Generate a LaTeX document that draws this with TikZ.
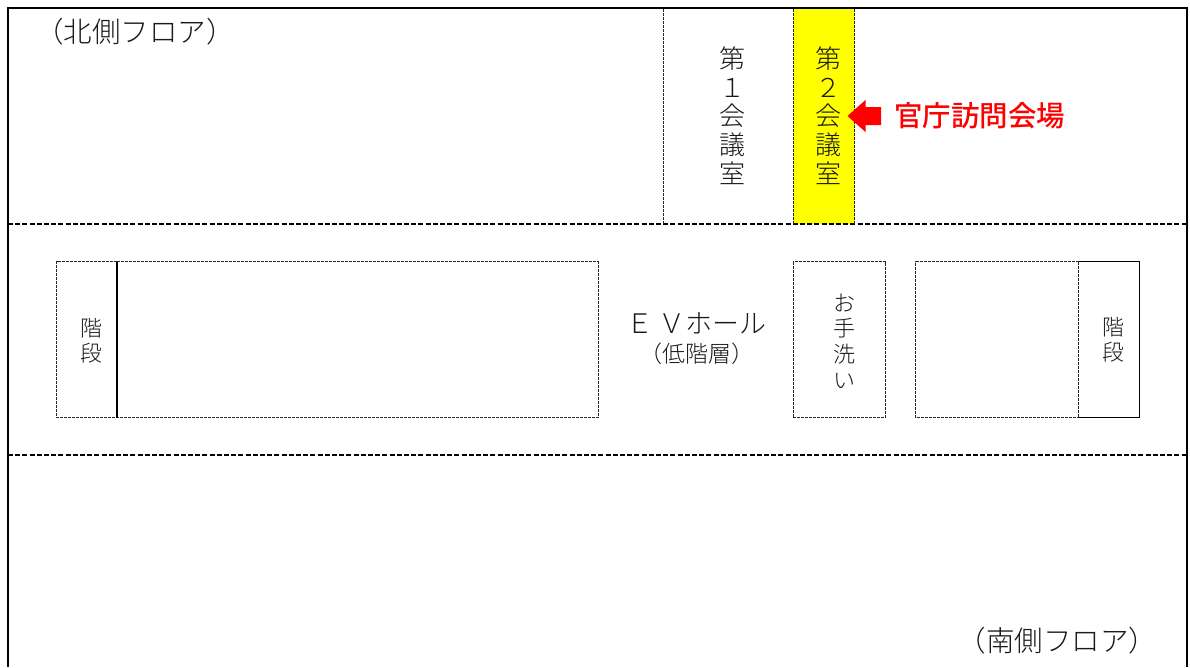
\documentclass[tikz,border=0pt]{standalone}
\usepackage{fontspec}
\setmainfont{Noto Sans CJK JP Medium}
\newfontfamily\jpl{Noto Sans CJK JP Light}
\definecolor{ink}{HTML}{1A1A1A}
\definecolor{hilite}{HTML}{FFFF00}
\definecolor{alert}{HTML}{FF0000}
\tikzset{
  x=1pt,y=-1pt,
  frameline/.style={line width=2.2pt,black},
  floorline/.style={line width=1.4pt,black,dash pattern=on 5pt off 2.2pt},
  thindash/.style={line width=1pt,black!85,dash pattern=on 3pt off 1pt},
  thinsolid/.style={line width=1.1pt,black},
  label/.style={inner sep=0pt,text=ink,align=center,font=\jpl},
  vbig/.style={label,font=\jpl\fontsize{26}{28.6}\selectfont},
  vmid/.style={label,font=\jpl\fontsize{22}{24.5}\selectfont},
  vtoilet/.style={label,font=\jpl\fontsize{22}{25.6}\selectfont},
  floorlabel/.style={label,font=\jpl\fontsize{28.5}{30}\selectfont},
}
\begin{document}
\begin{tikzpicture}
\useasboundingbox (0,0) rectangle (1190,667);
\fill[white] (0,0) rectangle (1190,667);
% highlighted room
\fill[hilite] (793.3,9) rectangle (854.7,224);
% outer frame
\draw[frameline] (8,667) -- (8,8) -- (1187,8) -- (1187,667);
% floor dividers
\draw[floorline] (8,224) -- (1187,224);
\draw[floorline] (8,455) -- (1187,455);
% meeting rooms
\draw[thindash] (663,9) -- (663,224);
\draw[thindash] (793.3,9) -- (793.3,224);
\draw[thindash] (854.7,9) -- (854.7,224);
% left core
\draw[thindash] (117,261.7) -- (56.7,261.7) -- (56.7,417.7) -- (117,417.7);
\draw[thindash] (117,261.7) -- (598,261.7) -- (598,417.7) -- (117,417.7);
\draw[thinsolid] (117,261.7) -- (117,417.7);
% toilet
\draw[thindash] (793,261.7) rectangle (885.5,417.7);
% right core
\draw[thindash] (1078.7,261.7) -- (915.7,261.7) -- (915.7,417.7) -- (1078.7,417.7);
\draw[thindash] (1078.7,261.7) -- (1078.7,417.7);
\draw[thinsolid] (1078.7,261.7) -- (1139.7,261.7) -- (1139.7,417.7) -- (1078.7,417.7);
% arrow
\fill[alert] (847.5,116) -- (865.5,100) -- (865.5,107) -- (881,107) -- (881,125) -- (865.5,125) -- (865.5,132) -- cycle;
% texts
\node[floorlabel] (north) at (135,32) {（北側フロア）};
\node[floorlabel] (south) at (1057.5,641) {（南側フロア）};
\node[vbig] (room1) at (732,115.5) {第\\１\\会\\議\\室};
\node[vbig] (room2) at (828,115.5) {第\\２\\会\\議\\室};
\node[inner sep=0pt,text=alert,font=\fontsize{28.5}{30}\selectfont] (venue) at (979.5,116) {官庁訪問会場};
\node[vmid] (stairL) at (91,341) {階\\段};
\node[vmid] (stairR) at (1113,340) {階\\段};
\node[label,font=\jpl\fontsize{27}{29}\selectfont] (ev) at (696.5,323) {Ｅ Ｖホール};
\node[label,font=\jpl\fontsize{23}{25}\selectfont] (low) at (696.5,354) {（低階層）};
\node[vtoilet] (toilet) at (844,341) {お\\手\\洗\\い};
\end{tikzpicture}
\end{document}
